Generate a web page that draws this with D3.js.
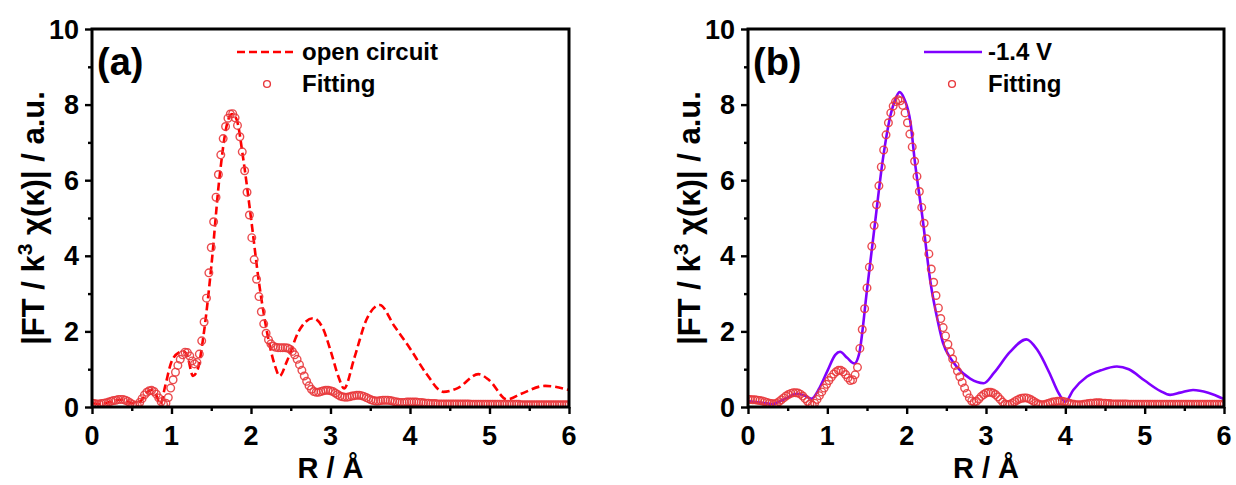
<!DOCTYPE html>
<html>
<head>
<meta charset="utf-8">
<script src="https://cdn.jsdelivr.net/npm/d3@7"></script>
<style>
  body { margin: 0; background: #fff; }
  text { font-family: 'Liberation Sans', Arial, sans-serif; font-weight: bold; fill: #000; }
</style>
</head>
<body>
<div id="chart"></div>
<script>
// panel (a): open circuit curve (R in Å, |FT| in a.u.)
const openR = [0, 0.1, 0.2, 0.3, 0.4, 0.5, 0.6, 0.7, 0.75, 0.8, 0.86, 0.92, 1.0, 1.1, 1.15, 1.2, 1.27, 1.33, 1.4, 1.5,
  1.6, 1.7, 1.76, 1.82, 1.9, 2.0, 2.1, 2.2, 2.3, 2.36, 2.45, 2.6, 2.78, 2.9, 3.0, 3.1, 3.17, 3.3, 3.45, 3.62,
  3.8, 4.0, 4.2, 4.42, 4.6, 4.86, 5.0, 5.22, 5.4, 5.7, 6.0];
const openV = [0.10, 0.08, 0.12, 0.18, 0.20, 0.10, 0.14, 0.40, 0.45, 0.35, 0.08, 0.55, 1.20, 1.45, 1.48, 1.35, 0.82, 1.0, 1.85, 3.7,
  6.0, 7.5, 7.75, 7.6, 6.6, 5.0, 3.3, 2.0, 1.1, 0.82, 1.2, 2.0, 2.35, 2.1, 1.5, 0.8, 0.49, 1.3, 2.3, 2.7,
  2.15, 1.55, 0.9, 0.40, 0.5, 0.87, 0.7, 0.2, 0.35, 0.56, 0.45];

// panel (b): -1.4 V curve
const biasR = [0, 0.15, 0.3, 0.45, 0.62, 0.72, 0.8, 0.9, 1.0, 1.1, 1.16, 1.25, 1.34, 1.4, 1.5, 1.6, 1.7, 1.8, 1.85, 1.91,
  1.97, 2.05, 2.1, 2.2, 2.3, 2.4, 2.46, 2.55, 2.63, 2.8, 2.97, 3.1, 3.3, 3.51, 3.65, 3.8, 3.92, 4.0, 4.1, 4.27,
  4.45, 4.65, 4.8, 5.0, 5.2, 5.32, 5.45, 5.61, 5.8, 6.0];
const biasV = [0.15, 0.12, 0.08, 0.2, 0.35, 0.3, 0.22, 0.5, 0.95, 1.38, 1.46, 1.3, 1.15, 1.4, 3.1, 4.85, 6.55, 7.75, 8.1, 8.33,
  8.15, 7.5, 6.55, 5.0, 3.3, 2.2, 1.68, 1.3, 1.07, 0.75, 0.63, 0.9, 1.45, 1.79, 1.5, 0.9, 0.35, 0.14, 0.45, 0.8,
  0.97, 1.07, 1.0, 0.7, 0.42, 0.32, 0.38, 0.45, 0.38, 0.21];

// fitting points, one every 0.03 Å from 0 to 6
const fitStep = 0.03;
const fitA = [
  0.10, 0.09, 0.08, 0.08, 0.09, 0.10, 0.11, 0.13, 0.15, 0.17,
  0.18, 0.20, 0.20, 0.20, 0.18, 0.15, 0.11, 0.07, 0.04, 0.05,
  0.12, 0.22, 0.32, 0.39, 0.43, 0.44, 0.41, 0.34, 0.24, 0.14,
  0.07, 0.10, 0.25, 0.50, 0.72, 0.92, 1.10, 1.26, 1.38, 1.45,
  1.44, 1.35, 1.22, 1.14, 1.18, 1.40, 1.75, 2.25, 2.88, 3.55,
  4.22, 4.90, 5.55, 6.15, 6.67, 7.10, 7.42, 7.64, 7.75, 7.76,
  7.65, 7.45, 7.15, 6.75, 6.25, 5.68, 5.08, 4.48, 3.90, 3.38,
  2.92, 2.52, 2.20, 1.95, 1.78, 1.67, 1.61, 1.58, 1.57, 1.57,
  1.57, 1.57, 1.56, 1.53, 1.47, 1.38, 1.26, 1.12, 0.97, 0.82,
  0.68, 0.56, 0.47, 0.41, 0.39, 0.39, 0.41, 0.43, 0.44, 0.44,
  0.43, 0.41, 0.37, 0.33, 0.29, 0.27, 0.26, 0.26, 0.27, 0.29,
  0.30, 0.31, 0.31, 0.30, 0.28, 0.25, 0.22, 0.19, 0.17, 0.16,
  0.16, 0.17, 0.18, 0.18, 0.18, 0.17, 0.16, 0.14, 0.13, 0.12,
  0.12, 0.12, 0.13, 0.13, 0.13, 0.13, 0.13, 0.12, 0.12, 0.11,
  0.10, 0.10, 0.09, 0.09, 0.09, 0.08, 0.08, 0.08, 0.08, 0.08,
  0.08, 0.08, 0.08, 0.08, 0.08, 0.08, 0.08, 0.08, 0.08, 0.07,
  0.07, 0.07, 0.07, 0.07, 0.07, 0.07, 0.07, 0.07, 0.07, 0.07,
  0.07, 0.07, 0.07, 0.07, 0.07, 0.07, 0.07, 0.07, 0.07, 0.07,
  0.06, 0.06, 0.06, 0.06, 0.06, 0.06, 0.06, 0.06, 0.06, 0.06,
  0.06, 0.06, 0.06, 0.06, 0.06, 0.06, 0.06, 0.06, 0.06, 0.06, 0.06];
const fitB = [
  0.20, 0.20, 0.19, 0.19, 0.18, 0.17, 0.16, 0.14, 0.12, 0.10,
  0.09, 0.08, 0.10, 0.14, 0.19, 0.24, 0.29, 0.33, 0.36, 0.38,
  0.38, 0.37, 0.34, 0.29, 0.22, 0.15, 0.08, 0.05, 0.10, 0.20,
  0.30, 0.40, 0.50, 0.60, 0.70, 0.79, 0.87, 0.93, 0.97, 0.97,
  0.93, 0.86, 0.77, 0.70, 0.72, 0.85, 1.05, 1.55, 2.05, 2.60,
  3.15, 3.70, 4.25, 4.80, 5.35, 5.85, 6.35, 6.80, 7.20, 7.52,
  7.78, 7.96, 8.08, 8.13, 8.10, 7.98, 7.78, 7.52, 7.22, 6.88,
  6.50, 6.10, 5.70, 5.28, 4.86, 4.45, 4.05, 3.65, 3.30, 2.95,
  2.62, 2.34, 2.10, 1.88, 1.66, 1.46, 1.27, 1.10, 0.95, 0.80,
  0.65, 0.50, 0.36, 0.24, 0.16, 0.13, 0.15, 0.21, 0.28, 0.33,
  0.37, 0.39, 0.39, 0.37, 0.33, 0.27, 0.20, 0.13, 0.08, 0.06,
  0.07, 0.10, 0.14, 0.18, 0.21, 0.23, 0.24, 0.24, 0.22, 0.19,
  0.15, 0.11, 0.08, 0.06, 0.06, 0.07, 0.09, 0.11, 0.13, 0.14,
  0.15, 0.15, 0.15, 0.14, 0.12, 0.10, 0.08, 0.07, 0.06, 0.06,
  0.06, 0.07, 0.08, 0.09, 0.10, 0.10, 0.11, 0.11, 0.11, 0.10,
  0.10, 0.09, 0.09, 0.08, 0.08, 0.08, 0.08, 0.08, 0.08, 0.08,
  0.07, 0.07, 0.07, 0.07, 0.07, 0.07, 0.07, 0.07, 0.07, 0.07,
  0.07, 0.07, 0.07, 0.07, 0.07, 0.07, 0.07, 0.07, 0.07, 0.07,
  0.07, 0.07, 0.07, 0.07, 0.07, 0.07, 0.07, 0.07, 0.07, 0.07,
  0.07, 0.07, 0.07, 0.07, 0.07, 0.07, 0.07, 0.07, 0.07, 0.07, 0.07];

const xTicks = [0, 1, 2, 3, 4, 5, 6];
const yTicks = [0, 2, 4, 6, 8, 10];
const panelLabels = ['(a)', '(b)'];
const curveNames = ['open circuit', '-1.4 V'];
const fitName = 'Fitting';

const W = 1236, H = 485;
const plotTop = 29, plotBottom = 407;

const svg = d3.select('#chart').append('svg')
  .attr('width', W)
  .attr('height', H);

svg.append('rect').attr('width', W).attr('height', H).attr('fill', '#fff');

drawPanel({ left: 92, right: 569, label: panelLabels[0], name: curveNames[0],
  R: openR, V: openV, fit: fitA, color: '#ff0000', dash: '8,4',
  legend: { x1: 237, x2: 296, mark: 267, text: 302 } });
drawPanel({ left: 748, right: 1224, label: panelLabels[1], name: curveNames[1],
  R: biasR, V: biasV, fit: fitB, color: '#7f00ff', dash: null,
  legend: { x1: 924, x2: 982, mark: 952, text: 988 } });

function drawPanel(p) {
  const x = d3.scaleLinear().domain([0, 6]).range([p.left, p.right]);
  const y = d3.scaleLinear().domain([0, 10]).range([plotBottom, plotTop]);
  const g = svg.append('g');

  const clipId = 'clip' + p.left;
  g.append('clipPath').attr('id', clipId)
    .append('rect')
    .attr('x', p.left).attr('y', plotTop)
    .attr('width', p.right - p.left).attr('height', plotBottom - plotTop);

  const plot = g.append('g').attr('clip-path', 'url(#' + clipId + ')');

  // measured curve
  const pts = p.R.map((r, i) => [r, p.V[i]]);
  const line = d3.line()
    .x(d => x(d[0]))
    .y(d => y(d[1]))
    .curve(d3.curveMonotoneX);
  plot.append('path')
    .datum(pts)
    .attr('d', line)
    .attr('fill', 'none')
    .attr('stroke', p.color)
    .attr('stroke-width', 2.6)
    .attr('stroke-dasharray', p.dash);

  // fitting circles
  plot.selectAll('circle.fit')
    .data(p.fit)
    .enter().append('circle')
    .attr('class', 'fit')
    .attr('cx', (d, i) => x(i * fitStep))
    .attr('cy', d => y(d))
    .attr('r', 3.8)
    .attr('fill', 'none')
    .attr('stroke', '#e8383c')
    .attr('stroke-opacity', 0.9)
    .attr('stroke-width', 1.4);

  // axes with outward ticks, minor ticks in between
  const xAxis = g.append('g')
    .attr('transform', 'translate(0,' + plotBottom + ')')
    .call(d3.axisBottom(x).tickValues(d3.range(0, 6.01, 0.5)).tickSize(4).tickFormat(''));
  xAxis.selectAll('.tick line').filter(d => Number.isInteger(d)).attr('y2', 7);

  const yAxis = g.append('g')
    .attr('transform', 'translate(' + p.left + ',0)')
    .call(d3.axisLeft(y).tickValues(d3.range(0, 10.01, 1)).tickSize(4).tickFormat(''));
  yAxis.selectAll('.tick line').filter(d => d % 2 === 0).attr('x2', -7);

  [xAxis, yAxis].forEach(a => {
    a.select('.domain').remove();
    a.selectAll('.tick line').attr('stroke', '#000').attr('stroke-width', 2.4);
  });

  // frame
  g.append('rect')
    .attr('x', p.left).attr('y', plotTop)
    .attr('width', p.right - p.left).attr('height', plotBottom - plotTop)
    .attr('fill', 'none')
    .attr('stroke', '#000')
    .attr('stroke-width', 3);

  // tick labels
  g.selectAll('text.xt')
    .data(xTicks)
    .enter().append('text')
    .attr('x', d => x(d))
    .attr('y', 445)
    .attr('text-anchor', 'middle')
    .attr('font-size', 27)
    .text(d => d);

  g.selectAll('text.yt')
    .data(yTicks)
    .enter().append('text')
    .attr('x', p.left - 13)
    .attr('y', d => y(d) + 9.5)
    .attr('text-anchor', 'end')
    .attr('font-size', 27)
    .text(d => d);

  // axis titles
  g.append('text')
    .attr('x', (p.left + p.right) / 2)
    .attr('y', 478)
    .attr('text-anchor', 'middle')
    .attr('font-size', 29)
    .text('R / Å');

  const yt = g.append('text')
    .attr('transform', 'translate(' + (p.left - 48) + ',' + ((plotTop + plotBottom) / 2) + ') rotate(-90)')
    .attr('text-anchor', 'middle')
    .attr('font-size', 31);
  yt.append('tspan').text('|FT / k');
  yt.append('tspan').attr('font-size', 21).attr('dy', -12).text('3');
  yt.append('tspan').attr('dy', 12).text(' χ(κ)| / a.u.');

  // panel label
  g.append('text')
    .attr('x', p.left + 5)
    .attr('y', 75)
    .attr('font-size', 38)
    .text(p.label);

  // legend
  const lg = p.legend;
  g.append('line')
    .attr('x1', lg.x1).attr('x2', lg.x2)
    .attr('y1', 52).attr('y2', 52)
    .attr('stroke', p.color)
    .attr('stroke-width', 2.6)
    .attr('stroke-dasharray', p.dash);
  g.append('text')
    .attr('x', lg.text).attr('y', 60)
    .attr('font-size', 24)
    .text(p.name);
  g.append('circle')
    .attr('cx', lg.mark).attr('cy', 84)
    .attr('r', 3.4)
    .attr('fill', 'none')
    .attr('stroke', '#e8383c')
    .attr('stroke-width', 1.4);
  g.append('text')
    .attr('x', lg.text).attr('y', 92)
    .attr('font-size', 24)
    .text(fitName);
}
</script>
</body>
</html>
